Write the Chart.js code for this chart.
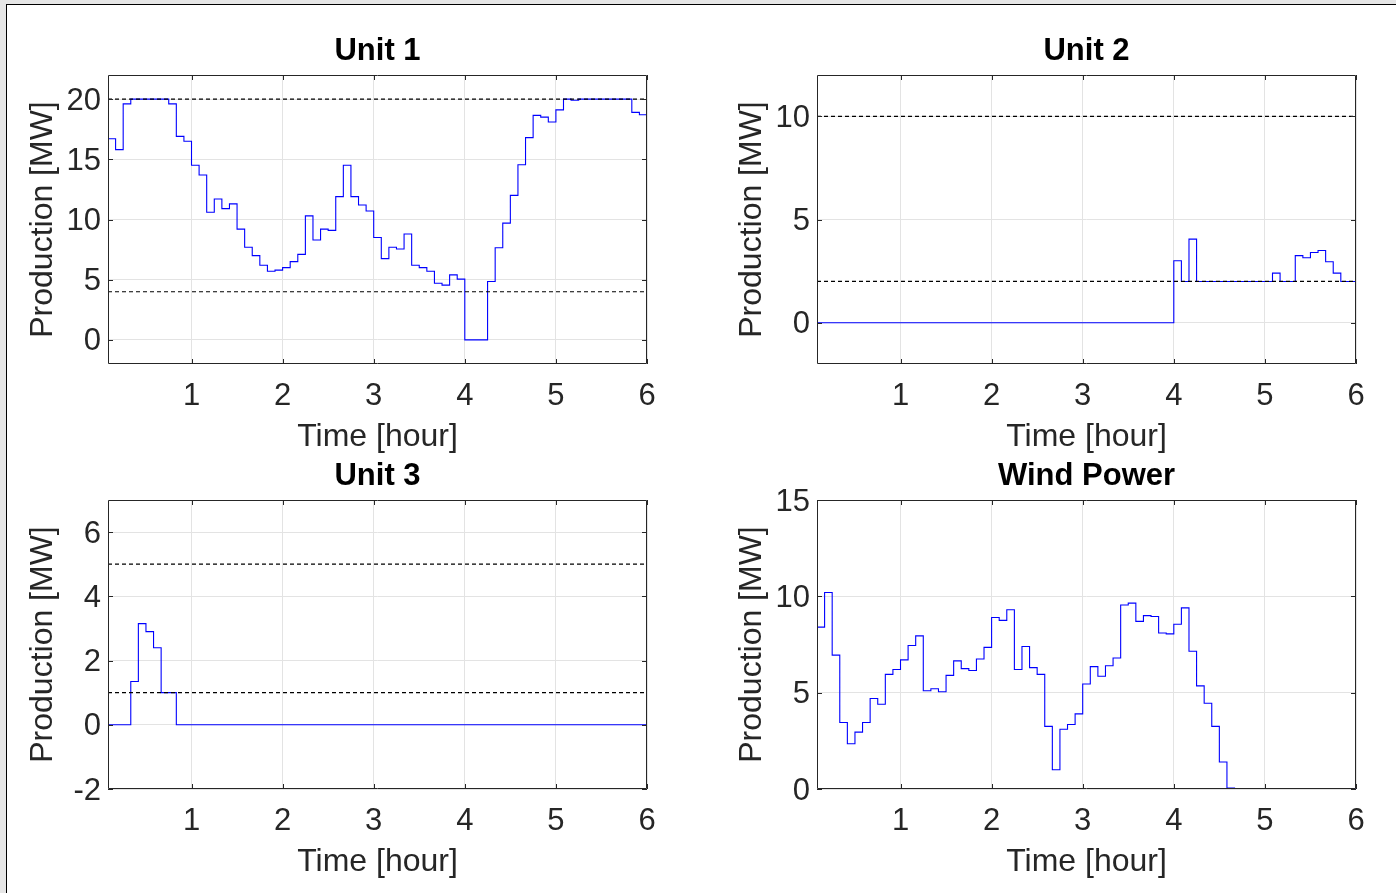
<!DOCTYPE html>
<html>
<head>
<meta charset="utf-8">
<script src="https://cdn.jsdelivr.net/npm/chart.js@4.4.1/dist/chart.umd.min.js"></script>
<style>
  html, body { margin: 0; padding: 0; background: #e6e6e6; width: 1396px; height: 893px; overflow: hidden; }
  #fig { position: absolute; left: 6px; top: 4px; width: 1400px; height: 900px; background: #fff;
         border-left: 1px solid #000; border-top: 1px solid #000; }
  canvas { position: absolute; }
</style>
</head>
<body>
<div id="fig"></div>
<canvas id="unit1" width="698" height="460" style="left:0px;top:0px"></canvas>
<canvas id="unit2" width="698" height="460" style="left:709px;top:0px"></canvas>
<canvas id="unit3" width="698" height="460" style="left:0px;top:425px"></canvas>
<canvas id="wind" width="698" height="460" style="left:709px;top:425px"></canvas>
<script>
// 5 minute steps, values in MW
const timeStep = 1 / 12;
const xTicks = [1, 2, 3, 4, 5, 6];

const unit1 = [
  16.7, 15.8, 19.6, 20, 20, 20, 20, 20, 19.6, 16.9, 16.5, 14.5,
  13.7, 10.6, 11.7, 10.9, 11.3, 9.2, 7.7, 7.0, 6.2, 5.7, 5.8, 6.0,
  6.5, 7.1, 10.3, 8.3, 9.2, 9.1, 11.9, 14.5, 11.9, 11.2, 10.7, 8.5,
  6.75, 7.7, 7.55, 8.8, 6.2, 6.0, 5.7, 4.7, 4.55, 5.4, 5.05, 0,
  0, 0, 4.85, 7.65, 9.7, 12.0, 14.55, 16.8, 18.65, 18.5, 18.1, 19.1,
  20, 19.9, 20, 20, 20, 20, 20, 20, 20, 18.9, 18.7, 18.7
];
const unit2 = [
  0, 0, 0, 0, 0, 0, 0, 0, 0, 0, 0, 0,
  0, 0, 0, 0, 0, 0, 0, 0, 0, 0, 0, 0,
  0, 0, 0, 0, 0, 0, 0, 0, 0, 0, 0, 0,
  0, 0, 0, 0, 0, 0, 0, 0, 0, 0, 0, 3.0,
  2, 4.05, 2, 2, 2, 2, 2, 2, 2, 2, 2, 2,
  2.4, 2, 2, 3.25, 3.15, 3.4, 3.5, 2.95, 2.4, 2, 2, 0
];
const unit3 = [
  0, 0, 0, 1.35, 3.15, 2.9, 2.4, 1.0, 1.0, 0, 0, 0,
  0, 0, 0, 0, 0, 0, 0, 0, 0, 0, 0, 0,
  0, 0, 0, 0, 0, 0, 0, 0, 0, 0, 0, 0,
  0, 0, 0, 0, 0, 0, 0, 0, 0, 0, 0, 0,
  0, 0, 0, 0, 0, 0, 0, 0, 0, 0, 0, 0,
  0, 0, 0, 0, 0, 0, 0, 0, 0, 0, 0, 0
];
const windPower = [
  8.4, 10.2, 6.95, 3.45, 2.35, 2.95, 3.45, 4.7, 4.4, 5.95, 6.2, 6.7,
  7.45, 7.95, 5.1, 5.2, 5.05, 5.9, 6.65, 6.25, 6.15, 6.75, 7.35, 8.9,
  8.75, 9.3, 6.2, 7.4, 6.3, 5.95, 3.25, 1.0, 3.1, 3.35, 3.9, 5.45,
  6.35, 5.85, 6.4, 6.8, 9.55, 9.65, 8.7, 9.0, 8.95, 8.1, 8.05, 8.55,
  9.4, 7.15, 5.35, 4.45, 3.25, 1.4, 0.05, 0, 0, 0, 0, 0,
  0, 0, 0, 0, 0, 0, 0, 0, 0, 0, 0, 0
];

// limits (dashed lines)
const unit1Limits = [4, 20];
const unit2Limits = [2, 10];
const unit3Limits = [1, 5];
const windLimits = [];

const unit1YTicks = [0, 5, 10, 15, 20];
const unit2YTicks = [0, 5, 10];
const unit3YTicks = [-2, 0, 2, 4, 6];
const windYTicks = [0, 5, 10, 15];

const time = unit1.map((_, i) => (i + 1) * timeStep);

const fontFamily = "'Liberation Sans', Arial, Helvetica, sans-serif";
const textColor = '#262626';
const gridColor = '#e3e3e3';

// matlab style box with inward ticks, title centred over the axes
const boxPlugin = {
  id: 'matlabBox',
  afterDraw(chart, args, opts) {
    const { ctx, chartArea: a, scales: { x, y } } = chart;
    const len = 5;
    ctx.save();
    ctx.strokeStyle = textColor;
    ctx.lineWidth = 1;
    ctx.beginPath();
    ctx.rect(a.left + 0.5, a.top + 0.5, a.right - a.left - 1, a.bottom - a.top - 1);
    x.ticks.forEach(t => {
      const px = Math.round(x.getPixelForValue(t.value)) + 0.5;
      ctx.moveTo(px, a.bottom); ctx.lineTo(px, a.bottom - len);
      ctx.moveTo(px, a.top); ctx.lineTo(px, a.top + len);
    });
    y.ticks.forEach(t => {
      const py = Math.round(y.getPixelForValue(t.value)) + 0.5;
      ctx.moveTo(a.left, py); ctx.lineTo(a.left + len, py);
      ctx.moveTo(a.right, py); ctx.lineTo(a.right - len, py);
    });
    ctx.stroke();

    ctx.fillStyle = '#000';
    ctx.font = 'bold 31px ' + fontFamily;
    ctx.textAlign = 'center';
    ctx.textBaseline = 'middle';
    ctx.fillText(opts.text, (a.left + a.right) / 2, 51);
    ctx.restore();
  }
};

function makeChart(id, title, values, yMin, yMax, yTicks, limits) {
  const datasets = limits.map(v => ({
    data: [{ x: time[0], y: v }, { x: time[time.length - 1], y: v }],
    borderColor: '#000',
    borderWidth: 1.2,
    borderDash: [4, 3],
    pointRadius: 0
  }));
  datasets.push({
    data: time.map((t, i) => ({ x: t, y: values[i] })),
    borderColor: '#0000ff',
    borderWidth: 1.1,
    stepped: 'before',
    pointRadius: 0
  });

  new Chart(document.getElementById(id), {
    type: 'line',
    data: { datasets },
    options: {
      responsive: false,
      animation: false,
      layout: { padding: { left: 0, right: 51, top: 75, bottom: 0 } },
      plugins: {
        legend: { display: false },
        tooltip: { enabled: false },
        title: { display: false },
        matlabBox: { text: title }
      },
      scales: {
        x: {
          type: 'linear',
          min: time[0],
          max: 6,
          afterBuildTicks: s => { s.ticks = xTicks.map(v => ({ value: v })); },
          afterFit: s => { s.height = 96; },
          ticks: { color: textColor, font: { family: fontFamily, size: 31 }, padding: 14, maxRotation: 0, autoSkip: false },
          grid: { color: gridColor, drawTicks: false },
          border: { display: false },
          title: { display: true, text: 'Time [hour]', color: textColor,
                   font: { family: fontFamily, size: 32 }, padding: { top: 0, bottom: 4 } }
        },
        y: {
          type: 'linear',
          min: yMin,
          max: yMax,
          afterBuildTicks: s => { s.ticks = yTicks.map(v => ({ value: v })); },
          afterFit: s => { s.width = 108; },
          ticks: { color: textColor, font: { family: fontFamily, size: 31 }, padding: 7, labelOffset: 2 },
          grid: { color: gridColor, drawTicks: false },
          border: { display: false },
          title: { display: true, text: 'Production [MW]', color: textColor,
                   font: { family: fontFamily, size: 32 }, padding: { top: 24, bottom: 0 } }
        }
      }
    },
    plugins: [boxPlugin]
  });
}

makeChart('unit1', 'Unit 1', unit1, -2, 22, unit1YTicks, unit1Limits);
makeChart('unit2', 'Unit 2', unit2, -2, 12, unit2YTicks, unit2Limits);
makeChart('unit3', 'Unit 3', unit3, -2, 7, unit3YTicks, unit3Limits);
makeChart('wind', 'Wind Power', windPower, 0, 15, windYTicks, windLimits);
</script>
</body>
</html>
